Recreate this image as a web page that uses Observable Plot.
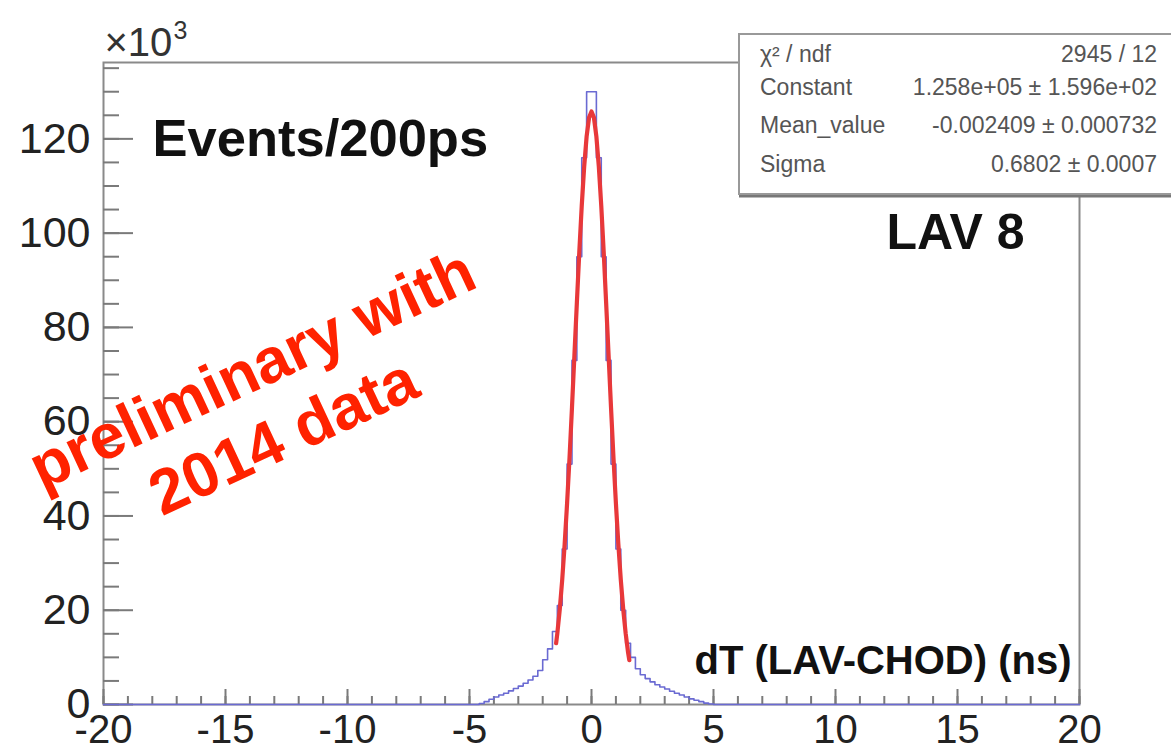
<!DOCTYPE html>
<html><head><meta charset="utf-8">
<script src="https://cdn.jsdelivr.net/npm/d3@7"></script>
<script src="https://cdn.jsdelivr.net/npm/@observablehq/plot@0.6"></script>
<style>
html,body{margin:0;padding:0;background:#fff;}
#chart{width:1171px;height:753px;overflow:hidden;}
svg{display:block;}
</style></head><body><div id="chart"></div>
<script>
// Histogram bins (dT in ns, 200 ps bins); counts in units of 10^3
const histLo = [-20, -4.6, -4.4, -4.2, -4.0, -3.8, -3.6, -3.4, -3.2, -3.0, -2.8, -2.6, -2.4, -2.2, -2.0, -1.8, -1.6, -1.4, -1.2, -1.0, -0.8, -0.6, -0.4, -0.2,
  0.0, 0.2, 0.4, 0.6, 0.8, 1.0, 1.2, 1.4, 1.6, 1.8, 2.0, 2.2, 2.4, 2.6, 2.8, 3.0, 3.2, 3.4, 3.6, 3.8, 4.0, 4.2, 4.4, 4.6, 4.8, 5.0];
const histCounts = [0, 0.2, 0.6, 1.1, 1.6, 2.0, 2.4, 2.9, 3.4, 3.9, 4.5, 5.2, 6.0, 7.2, 9.5, 11.8, 15.5, 21, 33, 51, 73, 95, 116, 130,
  130, 116, 95, 73, 51, 33, 20, 13, 10, 7.6, 6.3, 5.5, 4.8, 4.2, 3.7, 3.3, 2.8, 2.4, 2.0, 1.6, 1.2, 0.9, 0.6, 0.3, 0.1, 0];
const histEnd = 20;

// Gaussian fit curve (10^3)
const fitX = [-1.45, -1.4, -1.3, -1.2, -1.1, -1.0, -0.9, -0.8, -0.7, -0.6, -0.5, -0.4, -0.3, -0.2, -0.1, 0.0,
  0.1, 0.2, 0.3, 0.4, 0.5, 0.6, 0.7, 0.8, 0.9, 1.0, 1.1, 1.2, 1.3, 1.4, 1.5, 1.55];
const fitY = [13.0, 15.1, 20.2, 26.5, 34.0, 42.7, 52.4, 63.0, 74.1, 85.2, 96.0, 105.8, 114.1, 120.5, 124.5, 125.8,
  124.5, 120.5, 114.1, 105.8, 96.0, 85.2, 74.1, 63.0, 52.4, 42.7, 34.0, 26.5, 20.2, 15.1, 11.0, 9.4];

// Axes
const xMajor = [-20, -15, -10, -5, 0, 5, 10, 15, 20];
const xLabels = ["-20", "-15", "-10", "-5", "0", "5", "10", "15", "20"];
const xMinor = d3.range(-20, 21, 1);
const yMajor = [0, 20, 40, 60, 80, 100, 120];
const yLabels = ["0", "20", "40", "60", "80", "100", "120"];
const yMinor = d3.range(0, 136, 5);

// Texts
const yUnitBase = "×10";
const yUnitExp = "3";
const titleText = "Events/200ps";
const detectorText = "LAV 8";
const xTitle = "dT (LAV-CHOD) (ns)";
const watermark = "preliminary with\n2014 data";
const statsNames = ["χ² / ndf", "Constant", "Mean_value", "Sigma"];
const statsValues = ["2945 / 12", "1.258e+05 ± 1.596e+02", "-0.002409 ± 0.000732", "0.6802 ± 0.0007"];

// Build step points
const histPts = histLo.map((x, i) => ({x, y: histCounts[i]}));
histPts.push({x: histEnd, y: histCounts[histCounts.length - 1]});
const fitPts = fitX.map((x, i) => ({x, y: fitY[i]}));

const W = 1171, H = 753, mL = 103, mR = 92, mT = 62, mB = 49;
const pw = W - mL - mR, ph = H - mT - mB;
const font = "'Liberation Sans', Arial, Helvetica, sans-serif";

const chart = Plot.plot({
  width: W, height: H,
  marginLeft: mL, marginRight: mR, marginTop: mT, marginBottom: mB,
  x: {domain: [-20, 20], axis: null},
  y: {domain: [0, 136.2], axis: null},
  style: {fontFamily: font, background: "white", overflow: "visible"},
  marks: [
    Plot.frame({stroke: "#8a8a8a", strokeWidth: 2}),
    // y ticks (inside, on left)
    Plot.ruleY(yMinor, {stroke: "#7a7a7a", strokeWidth: 2, insetRight: pw - 16}),
    Plot.ruleY(yMajor, {stroke: "#7a7a7a", strokeWidth: 2, insetRight: pw - 30}),
    // x ticks (inside, on bottom)
    Plot.ruleX(xMinor, {stroke: "#7a7a7a", strokeWidth: 2, insetTop: ph - 8}),
    Plot.ruleX(xMajor, {stroke: "#7a7a7a", strokeWidth: 2, insetTop: ph - 15}),
    // histogram
    Plot.line(histPts, {x: "x", y: "y", curve: "step-after", stroke: "#6a6ad2", strokeWidth: 1.6}),
    // fit
    Plot.line(fitPts, {x: "x", y: "y", stroke: "#e8383a", strokeWidth: 4.2, strokeLinejoin: "round"}),
    // tick labels
    Plot.text(yLabels, {y: (d, i) => yMajor[i], text: d => d, frameAnchor: "left", textAnchor: "end", dx: -13, fontSize: 43, fill: "#222"}),
    Plot.text(xLabels, {x: (d, i) => xMajor[i], text: d => d, frameAnchor: "bottom", lineAnchor: "top", dy: 10, fontSize: 40, fill: "#222"}),
    Plot.text([yUnitBase], {text: d => d, frameAnchor: "top-left", textAnchor: "start", lineAnchor: "bottom", dx: 1, dy: -7, fontSize: 40, fill: "#333"}),
    Plot.text([yUnitExp], {text: d => d, frameAnchor: "top-left", textAnchor: "start", lineAnchor: "bottom", dx: 70, dy: -24, fontSize: 25, fill: "#333"}),
    // annotations
    Plot.text([titleText], {text: d => d, frameAnchor: "top-left", textAnchor: "start", lineAnchor: "bottom", dx: 49, dy: 93, fontSize: 52.5, fontWeight: "bold", fill: "#111"}),
    Plot.text([detectorText], {text: d => d, frameAnchor: "top-left", textAnchor: "start", lineAnchor: "bottom", dx: 783, dy: 186, fontSize: 50, fontWeight: "bold", fill: "#111"}),
    Plot.text([xTitle], {text: d => d, frameAnchor: "bottom-right", textAnchor: "end", lineAnchor: "bottom", dx: -8, dy: -31, fontSize: 40, fontWeight: "bold", fill: "#111"}),
    Plot.text([watermark], {text: d => d, frameAnchor: "top-left", textAnchor: "middle", lineAnchor: "middle", dx: 163, dy: 338, rotate: -25, fontSize: 63, fontWeight: "bold", fill: "#ff2200", lineHeight: 1.18})
  ]
});
document.getElementById("chart").appendChild(chart);

// Stats box (ROOT style)
const svg = d3.select(chart);
const box = svg.append("g").attr("font-family", font);
box.append("line").attr("x1", 739).attr("x2", 1180).attr("y1", 196).attr("y2", 196).attr("stroke", "#777").attr("stroke-width", 3);
box.append("rect").attr("x", 739).attr("y", 34).attr("width", 440).attr("height", 160)
  .attr("fill", "white").attr("stroke", "#999").attr("stroke-width", 2);
const rowBase = [62, 95, 133, 172];
statsNames.forEach((n, i) => {
  box.append("text").attr("x", 760).attr("y", rowBase[i]).attr("font-size", 23).attr("fill", "#555").attr("text-anchor", "start").text(n);
  box.append("text").attr("x", 1157).attr("y", rowBase[i]).attr("font-size", 23).attr("fill", "#555").attr("text-anchor", "end").text(statsValues[i]);
});
</script>
</body></html>
